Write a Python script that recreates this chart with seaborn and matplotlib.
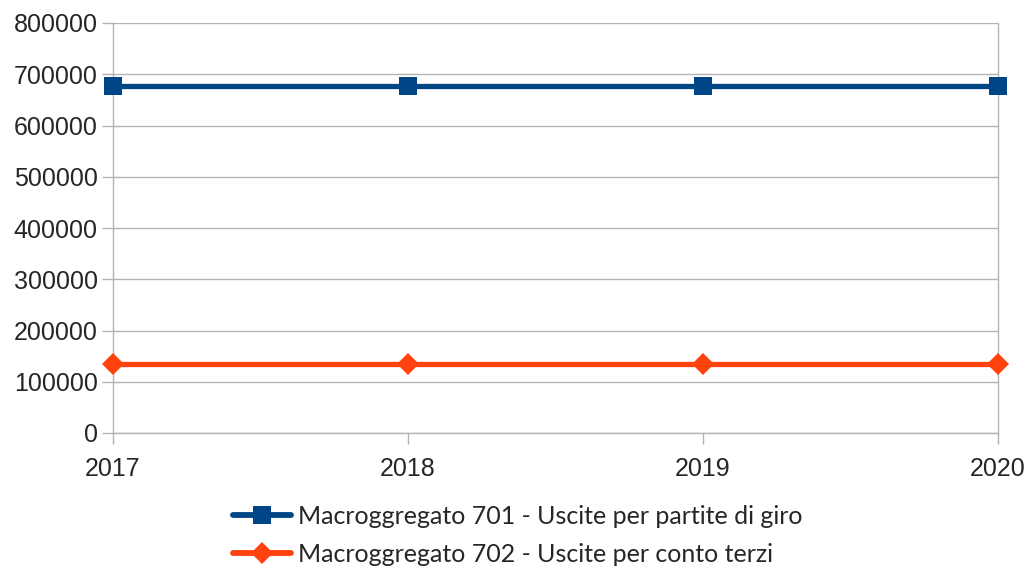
import matplotlib
matplotlib.use("Agg")
import matplotlib.pyplot as plt
import pandas as pd
import seaborn as sns

# data
years = [2017, 2018, 2019, 2020]
macro_701 = [678000, 678000, 678000, 678000]
macro_702 = [135000, 135000, 135000, 135000]
series_names = ["Macroggregato 701 - Uscite per partite di giro",
                "Macroggregato 702 - Uscite per conto terzi"]
y_ticks = [0, 100000, 200000, 300000, 400000, 500000, 600000, 700000, 800000]

df = pd.DataFrame({
    "Anno": years * 2,
    "Valore": macro_701 + macro_702,
    "Serie": [series_names[0]] * len(years) + [series_names[1]] * len(years),
})

sns.set_style("white")
plt.rcParams["font.family"] = ["Liberation Sans", "DejaVu Sans"]

grid_col = "#b3b3b3"
palette = {series_names[0]: "#004586", series_names[1]: "#ff420e"}
markers = {series_names[0]: "s", series_names[1]: "D"}

fig = plt.figure(figsize=(10.3, 5.71), dpi=100)
ax = fig.add_axes([113 / 1030, 1 - 433 / 571, (998 - 113) / 1030, (433 - 23) / 571])

sns.lineplot(data=df, x="Anno", y="Valore", hue="Serie", style="Serie",
             palette=palette, markers=markers, dashes=False, linewidth=3.8,
             markersize=13, markeredgewidth=0, ax=ax, clip_on=False, zorder=3)

# diamond a bit smaller than the square
for line in ax.get_lines():
    if line.get_marker() == "D":
        line.set_markersize(11)

ax.set_xlim(2017, 2020)
ax.set_ylim(0, 800000)
ax.set_xticks(years)
ax.set_xticklabels([str(y) for y in years])
ax.set_yticks(y_ticks)
ax.set_yticklabels([str(v) for v in y_ticks])
ax.grid(True, axis="y", color=grid_col, linewidth=1)
ax.grid(False, axis="x")
ax.set_axisbelow(True)
ax.set_xlabel("")
ax.set_ylabel("")

ax.spines["top"].set_visible(False)
for side in ["left", "bottom", "right"]:
    ax.spines[side].set_color(grid_col)
    ax.spines[side].set_linewidth(1)

ax.tick_params(axis="both", which="both", length=8, width=1, color=grid_col,
               labelsize=18, direction="out", left=True, bottom=True)
ax.tick_params(axis="y", pad=3)
ax.tick_params(axis="x", pad=9)

handles, labels = ax.get_legend_handles_labels()
ax.legend_.remove()
leg = fig.legend(handles, labels, loc="center", bbox_to_anchor=(0.503, 0.063),
                 frameon=False, ncol=1, handlelength=2.3, handletextpad=0.3,
                 labelspacing=0.6, prop={"family": ["Lato", "DejaVu Sans"], "size": 18})
for h in leg.legend_handles:
    h.set_linewidth(4.2)

fig.savefig("out.png", dpi=100)
